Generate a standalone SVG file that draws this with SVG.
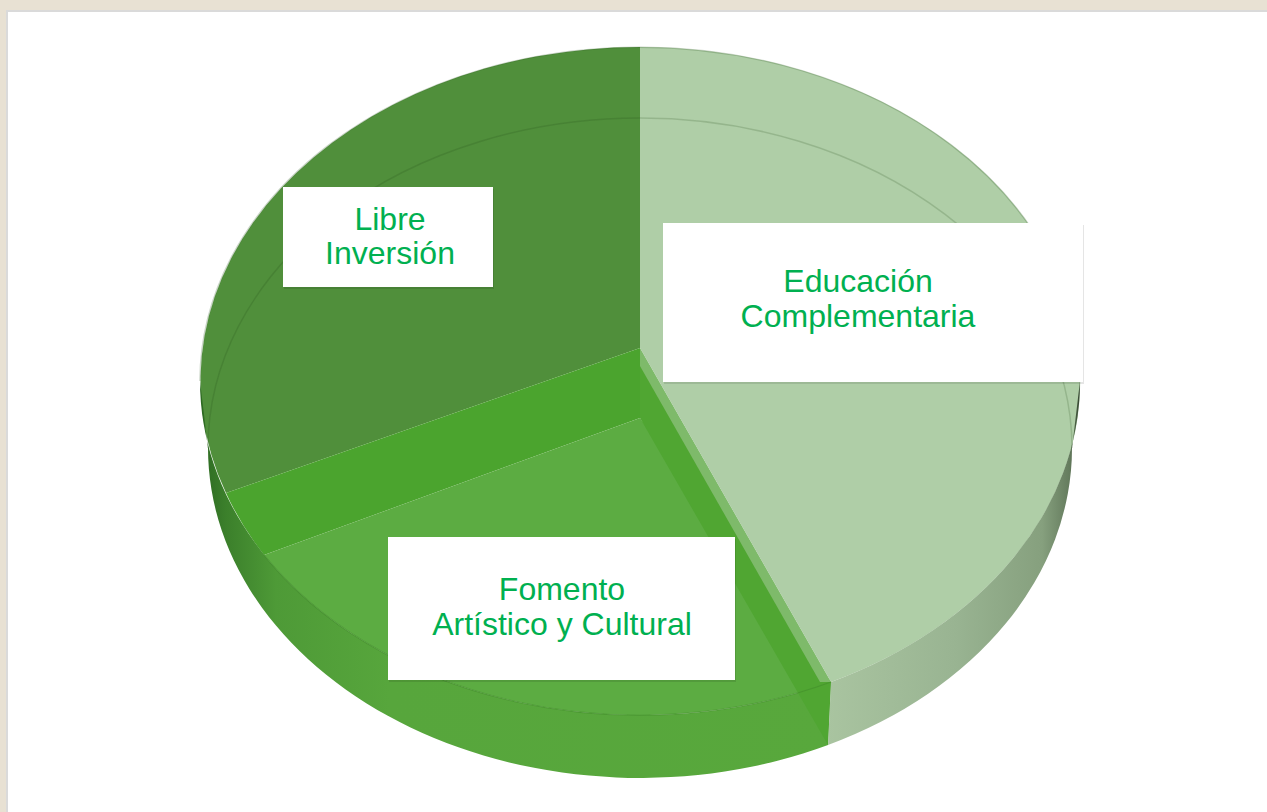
<svg xmlns="http://www.w3.org/2000/svg" width="1267" height="812" viewBox="0 0 1267 812">
<style>
.lbl{font-family:"Liberation Sans",Arial,sans-serif;font-size:32px;fill:#00b050;text-anchor:middle}
.box{fill:#ffffff}
.shadow{fill:#000000;opacity:0.10}
</style>
<defs>
<linearGradient id="lw" gradientUnits="userSpaceOnUse" x1="200" y1="0" x2="832" y2="0">
<stop offset="0" stop-color="#2c6821"/>
<stop offset="0.04" stop-color="#3b7f2b"/>
<stop offset="0.12" stop-color="#4e9a37"/>
<stop offset="0.3" stop-color="#57a63c"/>
<stop offset="1" stop-color="#58a83c"/>
</linearGradient>
<linearGradient id="rw" gradientUnits="userSpaceOnUse" x1="828" y1="0" x2="1080" y2="0">
<stop offset="0" stop-color="#a9c4a0"/>
<stop offset="0.5" stop-color="#99b492"/>
<stop offset="0.85" stop-color="#86a07e"/>
<stop offset="0.96" stop-color="#647b5d"/>
<stop offset="1" stop-color="#33432f"/>
</linearGradient>
</defs>
<rect x="0" y="0" width="1267" height="812" fill="#e8e1d3"/>
<rect x="7" y="11" width="1262" height="803" fill="#ffffff" stroke="#dadada" stroke-width="2"/>
<g id="pie">
<path id="libre-top" d="M640,348 L640,47 A440,334 0 0,0 226,493 Z" fill="#508f3b"/>
<path id="cut-left" d="M640,348 L226,493 A440,334 0 0,0 264,555 L640,418 Z" fill="#4ba42e"/>
<path id="fomento-top" d="M640,418 L264,555 A440,334 0 0,0 831,682 Z" fill="#5cac42"/>
<path id="wall-left" d="M200,381 A440,334 0 0,0 831,682 L828,745 A432,330 0 0,1 208,448 Z" fill="url(#lw)"/>
<path id="cut-right" d="M640,348 L831,682 L828,745 L640,418 Z" fill="#50a632"/>
<path id="educacion-top" d="M640,348 L640,47 A440,334 0 0,1 831,682 Z" fill="#afcea7"/>
<path d="M640,348 L831,682 L820,682 L640,366 Z" fill="#b6d3af" opacity="0.45"/>
<path id="wall-right" d="M831,682 A440,334 0 0,0 1080,381 L1072,448 A432,330 0 0,1 828,745 Z" fill="url(#rw)"/>
<path d="M208,448 A432,330 0 0,1 1072,448" fill="none" stroke="#1f4a16" stroke-opacity="0.18" stroke-width="1.5"/>
<path d="M264,555 A440,334 0 0,0 831,682" fill="none" stroke="#3f8a2a" stroke-opacity="0.5" stroke-width="1.2"/>
<path d="M200,381 A440,334 0 0,1 1080,381" fill="none" stroke="#2e5a25" stroke-opacity="0.25" stroke-width="1.5"/>
</g>
<g id="connectors"></g>
<g id="node-libre">
<rect class="shadow" x="284" y="189" width="210" height="100"/>
<rect class="box" x="283" y="187" width="210" height="100"/>
<text class="lbl" x="390" y="230">Libre</text>
<text class="lbl" x="390" y="264">Inversión</text>
</g>
<g id="node-educacion">
<rect class="shadow" x="664" y="225" width="420" height="159"/>
<rect class="box" x="663" y="223" width="420" height="159"/>
<text class="lbl" x="858" y="292">Educación</text>
<text class="lbl" x="858" y="327">Complementaria</text>
</g>
<g id="node-fomento">
<rect class="shadow" x="389" y="539" width="347" height="143"/>
<rect class="box" x="388" y="537" width="347" height="143"/>
<text class="lbl" x="562" y="600">Fomento</text>
<text class="lbl" x="562" y="635">Artístico y Cultural</text>
</g>
</svg>
